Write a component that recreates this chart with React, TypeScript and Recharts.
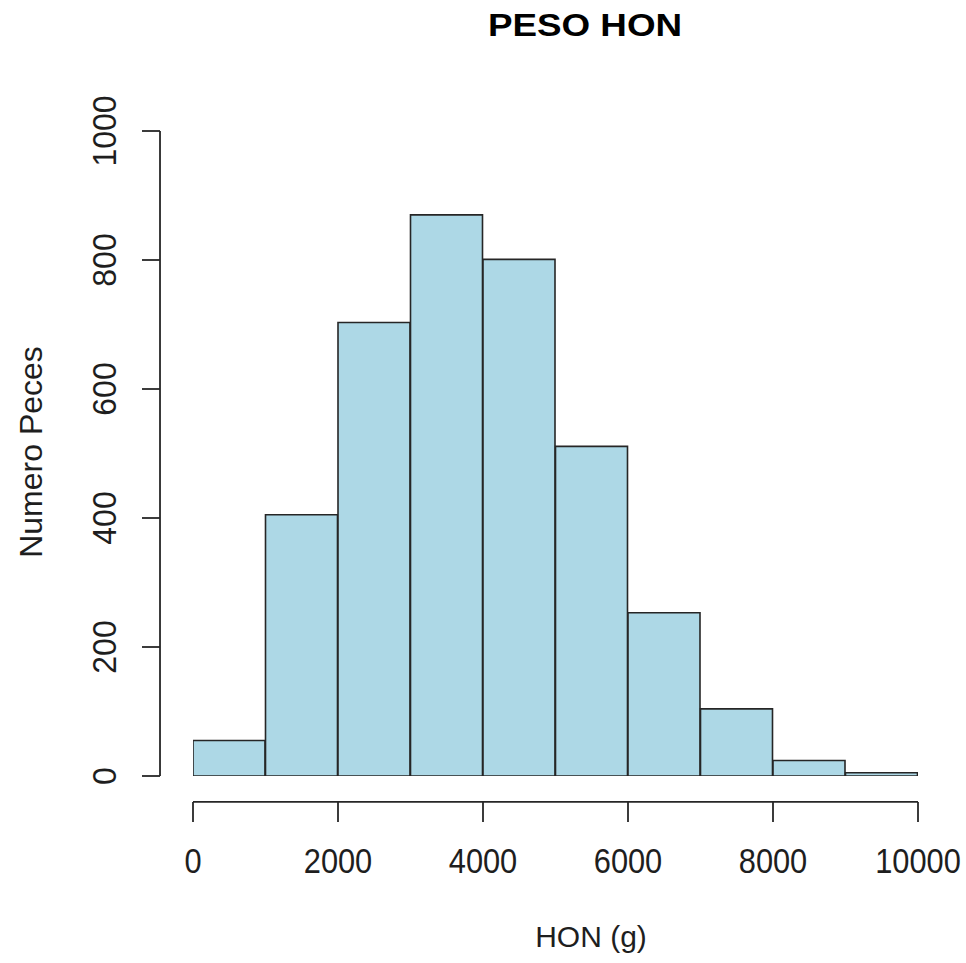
import React from 'react';
import { BarChart, Bar, XAxis, YAxis, ReferenceLine } from 'recharts';

// Histogram bins (g) and fish counts per bin
const binStarts = [0, 1000, 2000, 3000, 4000, 5000, 6000, 7000, 8000, 9000];
const binWidth = 1000;
const binCounts = [55, 405, 703, 870, 801, 511, 253, 104, 24, 5];
const xTicks = [0, 2000, 4000, 6000, 8000, 10000];
const yTicks = [0, 200, 400, 600, 800, 1000];

const titleText = 'PESO HON';
const xTitle = 'HON (g)';
const yTitle = 'Numero Peces';

// each bar sits on the centre of its bin
const data = binStarts.map((s, i) => ({ mid: s + binWidth / 2, count: binCounts[i] }));

const FONT = '"Liberation Sans", Arial, Helvetica, sans-serif';
const INK = '#1e1e1e';
const LINE = '#262626';

const XTick = (props: any) => {
  const { x, y, payload } = props;
  return (
    <g transform={`translate(${x}, ${y + 49}) scale(0.88, 1)`}>
      <text x={0} y={0} textAnchor="middle" fontFamily={FONT} fontSize={35} fill={INK}>
        {payload.value}
      </text>
    </g>
  );
};

const YTick = (props: any) => {
  const { x, y, payload } = props;
  const bx = x - 24;
  return (
    <g transform={`translate(${bx}, ${y}) rotate(-90) scale(0.94, 1)`}>
      <text x={0} y={0} textAnchor="middle" fontFamily={FONT} fontSize={34} fill={INK}>
        {payload.value}
      </text>
    </g>
  );
};

export default function App() {
  const xMin = xTicks[0];
  const xMax = xTicks[xTicks.length - 1];
  const yMin = yTicks[0];
  const yMax = yTicks[yTicks.length - 1];
  return (
    <div style={{ position: 'absolute', left: 0, top: 0, width: 966, height: 963, background: '#fff' }}>
      <BarChart
        width={966}
        height={963}
        data={data}
        margin={{ top: 105, right: 19, bottom: 0, left: 0 }}
        barCategoryGap={0}
        barGap={0}
      >
        <XAxis
          type="number"
          dataKey="mid"
          domain={[xMin, xMax]}
          ticks={xTicks}
          interval={0}
          padding={{ left: 33, right: 29 }}
          height={161}
          axisLine={false}
          tickSize={20}
          tickLine={{ stroke: LINE, strokeWidth: 1.8 }}
          tick={<XTick />}
          allowDataOverflow
        />
        <YAxis
          type="number"
          domain={[yMin, yMax]}
          ticks={yTicks}
          interval={0}
          padding={{ top: 26, bottom: 26 }}
          width={160}
          axisLine={false}
          tickSize={18}
          tickLine={{ stroke: LINE, strokeWidth: 1.8 }}
          tick={<YTick />}
          allowDataOverflow
        />
        <Bar
          dataKey="count"
          fill="#ADD8E6"
          stroke={LINE}
          strokeWidth={1.6}
          isAnimationActive={false}
        />
        <ReferenceLine
          segment={[{ x: xMin, y: -40 }, { x: xMax, y: -40 }]}
          ifOverflow="visible"
          stroke={LINE}
          strokeWidth={1.8}
        />
        <ReferenceLine
          segment={[{ x: -455, y: yMin }, { x: -455, y: yMax }]}
          ifOverflow="visible"
          stroke={LINE}
          strokeWidth={1.8}
        />
      </BarChart>
      <svg width={966} height={963} style={{ position: 'absolute', left: 0, top: 0, pointerEvents: 'none' }}>
        <g transform="translate(585, 36) scale(1.15, 1)">
          <text x={0} y={0} textAnchor="middle" fontFamily={FONT} fontWeight="bold" fontSize={32} fill="#000">
            {titleText}
          </text>
        </g>
        <text x={591} y={947} textAnchor="middle" fontFamily={FONT} fontSize={30} fill={INK}>
          {xTitle}
        </text>
        <text
          x={42}
          y={452}
          textAnchor="middle"
          transform="rotate(-90, 42, 452)"
          fontFamily={FONT}
          fontSize={32}
          fill={INK}
        >
          {yTitle}
        </text>
      </svg>
    </div>
  );
}
